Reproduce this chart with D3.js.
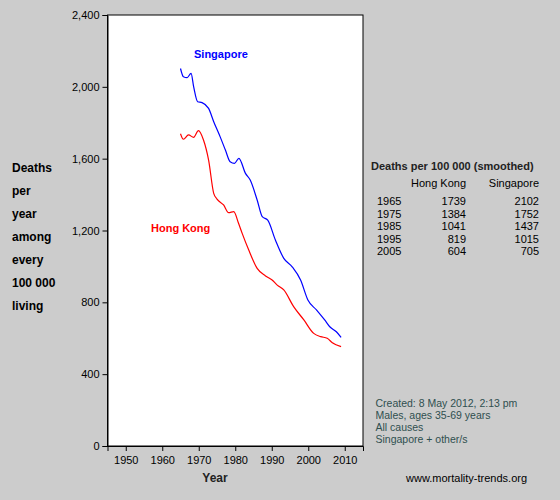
<!DOCTYPE html>
<html><head><meta charset="utf-8">
<script src="https://cdn.jsdelivr.net/npm/d3@7"></script>
<style>body{margin:0;background:#ccc}text{font-family:"Liberation Sans",Arial,sans-serif}</style>
</head><body><svg id="c" width="560" height="500"></svg>
<script>
const sgYears=[1965,1965.8,1966.8,1967.9,1968.6,1969.7,1970.9,1972.7,1974.1,1975.9,1977.3,1978.6,1979.8,1981,1982.8,1984.1,1986,1987.4,1988.9,1991,1993.3,1995.6,1997.9,1999.9,2002.3,2004.5,2005.9,2007.7,2009];
const sgVals=[2102,2056,2051,2075,2001,1917,1912,1880,1806,1720,1648,1583,1574,1602,1518,1481,1370,1277,1258,1147,1045,998,924,813,757,702,664,636,605];
const hkYears=[1965,1965.8,1967.2,1968.6,1969.9,1971.3,1972.7,1974.1,1975,1976.8,1978.2,1979.6,1980.9,1981.9,1983.7,1986,1988.3,1990.1,1991.5,1993.3,1996,1998.8,2001.5,2003.4,2005.2,2006.6,2009];
const hkVals=[1739,1708,1732,1719,1756,1704,1592,1407,1375,1342,1299,1305,1240,1184,1091,989,947,924,896,869,776,702,627,609,600,575,553];
const xTicks=[1950,1960,1970,1980,1990,2000,2010];
const yTicks=[0,400,800,1200,1600,2000,2400];
const tableYears=[1965,1975,1985,1995,2005];
const tableHK=[1739,1384,1041,819,604];
const tableSG=[2102,1752,1437,1015,705];
const yLabel=["Deaths","per","year","among","every","100 000","living"];
const notes=["Created: 8 May 2012, 2:13 pm","Males, ages 35-69 years","All causes","Singapore + other/s"];

const svg=d3.select("#c");
const x=d3.scaleLinear().domain([1945,2015]).range([107.5,363]);
const y=d3.scaleLinear().domain([0,2400]).range([446,15]);
svg.append("rect").attr("x",107.5).attr("y",15).attr("width",255.5).attr("height",431).attr("fill","#fff").attr("stroke","#000");
const xa=svg.append("g").attr("transform","translate(0,446)").call(d3.axisBottom(x).tickValues(xTicks).tickFormat(d3.format("d")).tickSizeOuter(0).tickSize(5));
const ya=svg.append("g").attr("transform","translate(107.5,0)").call(d3.axisLeft(y).tickValues(yTicks).tickSizeOuter(0).tickSize(5));
[xa,ya].forEach(a=>{a.selectAll("text").attr("font-size",11).attr("fill","#000").attr("font-family","Liberation Sans, Arial");a.select(".domain").attr("stroke","#000");a.selectAll("line").attr("stroke","#000");});
xa.selectAll("text").attr("dy","0.9em");
const line=d3.line().x(d=>x(d[0])).y(d=>y(d[1])).curve(d3.curveMonotoneX);
svg.append("path").attr("d",line(d3.zip(sgYears,sgVals))).attr("fill","none").attr("stroke","#0000ff").attr("stroke-width",1.2);
svg.append("path").attr("d",line(d3.zip(hkYears,hkVals))).attr("fill","none").attr("stroke","#ff0000").attr("stroke-width",1.2);
svg.append("text").attr("x",194).attr("y",58).attr("fill","#0000ff").attr("font-weight","bold").attr("font-size",11).text("Singapore");
svg.append("text").attr("x",151).attr("y",232).attr("fill","#ff0000").attr("font-weight","bold").attr("font-size",11).text("Hong Kong");
yLabel.forEach((t,i)=>svg.append("text").attr("x",12).attr("y",172+i*23).attr("font-weight","bold").attr("font-size",12).text(t));
svg.append("text").attr("x",215).attr("y",482).attr("text-anchor","middle").attr("font-weight","bold").attr("font-size",12).attr("fill","#222").text("Year");
svg.append("text").attr("x",371).attr("y",170).attr("font-weight","bold").attr("font-size",11).attr("fill","#222").text("Deaths per 100 000 (smoothed)");
svg.append("text").attr("x",466).attr("y",187).attr("text-anchor","end").attr("font-size",11).text("Hong Kong");
svg.append("text").attr("x",539).attr("y",187).attr("text-anchor","end").attr("font-size",11).text("Singapore");
tableYears.forEach((yr,i)=>{const ty=205+i*12.5;
 svg.append("text").attr("x",377).attr("y",ty).attr("font-size",11).text(yr);
 svg.append("text").attr("x",466).attr("y",ty).attr("text-anchor","end").attr("font-size",11).text(tableHK[i]);
 svg.append("text").attr("x",539).attr("y",ty).attr("text-anchor","end").attr("font-size",11).text(tableSG[i]);});
notes.forEach((t,i)=>svg.append("text").attr("x",375.5).attr("y",407+i*12).attr("font-size",10.5).attr("fill","#2f4f4f").text(t));
svg.append("text").attr("x",406).attr("y",482).attr("font-size",11).text("www.mortality-trends.org");
</script></body></html>
